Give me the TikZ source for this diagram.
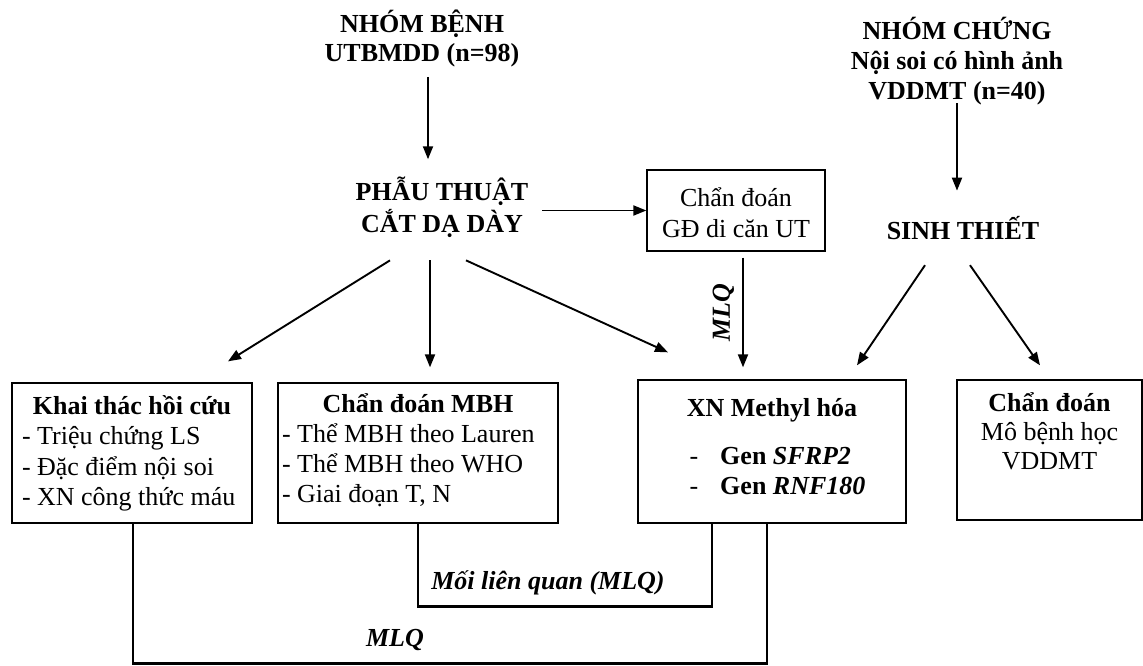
\documentclass[tikz,border=0pt]{standalone}
\usepackage{fontspec}
\setmainfont{Liberation Serif}
\usetikzlibrary{arrows.meta,calc}
\begin{document}
\begin{tikzpicture}[x=1pt,y=-1pt,
  every node/.style={inner sep=0pt, font=\fontsize{26}{30.5}\selectfont},
  ttl/.style={anchor=base, font=\fontsize{26}{30}\selectfont\bfseries},
  box/.style={draw, line width=1.3pt},
  arr/.style={line width=1.9pt, -{Triangle[length=13pt,width=10pt]}},
  conn/.style={line width=2.4pt},
  lbl/.style={font=\fontsize{26}{30}\selectfont\bfseries\itshape},
]
\useasboundingbox (0,0) rectangle (1143,666);

% titles
\node[ttl, font=\fontsize{26}{29}\selectfont\bfseries] (nb) at (422,33)
  {\begin{tabular}[t]{@{}c@{}}NHÓM BỆNH\\UTBMDD (n=98)\end{tabular}};
\node[ttl] (pt) at (442,200)
  {\begin{tabular}[t]{@{}c@{}}PHẪU THUẬT\\CẮT DẠ DÀY\end{tabular}};
\node[ttl] (nc) at (957,40)
  {\begin{tabular}[t]{@{}c@{}}NHÓM CHỨNG\\Nội soi có hình ảnh\\VDDMT (n=40)\end{tabular}};
\node[ttl] (st) at (963,239)
  {\begin{tabular}[t]{@{}c@{}}SINH THIẾT\end{tabular}};

% boxes
\node[box, minimum width=178pt, minimum height=81pt, text height=36pt, text depth=45pt,
  font=\fontsize{26}{31}\selectfont] (gd) at (736,210.5)
  {\begin{tabular}[t]{@{}c@{}}Chẩn đoán\\GĐ di căn UT\end{tabular}};
\node[box, minimum width=240pt, minimum height=140pt, text height=31pt, text depth=109pt] (lb) at (132,453)
  {\begin{tabular}[t]{@{}p{220pt}@{}}\multicolumn{1}{@{}c@{}}{\textbf{Khai thác hồi cứu}}\\- Triệu chứng LS\\- Đặc điểm nội soi\\- XN công thức máu\end{tabular}};
\node[box, minimum width=280pt, minimum height=140pt, text height=29pt, text depth=111pt,
  font=\fontsize{26}{30}\selectfont] (mb) at (418,453)
  {\begin{tabular}[t]{@{}p{272pt}@{}}\multicolumn{1}{@{}c@{}}{\textbf{Chẩn đoán MBH}}\\- Thể MBH theo Lauren\\- Thể MBH theo WHO\\- Giai đoạn T, N\end{tabular}};
\node[box, minimum width=268pt, minimum height=143pt, text height=36pt, text depth=107pt,
  font=\fontsize{26}{29.5}\selectfont] (xm) at (772,451.5)
  {\begin{tabular}[t]{@{\hspace{11pt}}l@{\hspace{22pt}}l@{}}\multicolumn{2}{@{}c@{}}{\textbf{XN Methyl hóa}}\\[19pt]-&\textbf{Gen \textit{SFRP2}}\\-&\textbf{Gen \textit{RNF180}}\end{tabular}};
\node[box, minimum width=185pt, minimum height=140pt, text height=31pt, text depth=109pt,
  font=\fontsize{26}{29}\selectfont] (rb) at (1049.5,450)
  {\begin{tabular}[t]{@{}c@{}}\textbf{Chẩn đoán}\\Mô bệnh học\\VDDMT\end{tabular}};

% arrows
\draw[arr] ([xshift=6pt,yshift=-6pt]nb.south) -- ([xshift=-14pt,yshift=17pt]pt.north);
\draw[arr] ([xshift=-104pt]gd.west) -- (gd.west);
\draw[arr] ([xshift=7pt,yshift=-6pt]gd.south) -- ([xshift=-29pt,yshift=12pt]xm.north)
  node[midway, rotate=90, anchor=south, inner sep=8pt, lbl] (mlq1) {MLQ};
\draw[arr] ([xshift=-52pt,yshift=-19pt]pt.south) -- ([xshift=96pt,yshift=21pt]lb.north);
\draw[arr] ([xshift=-12pt,yshift=-19pt]pt.south) -- ([xshift=12pt,yshift=15pt]mb.north);
\draw[arr] ([xshift=24pt,yshift=-19pt]pt.south) -- ([xshift=-104pt,yshift=27pt]xm.north);
\draw[arr] ([yshift=6pt]nc.south) -- ([xshift=-6pt,yshift=25pt]st.north);
\draw[arr] ([xshift=-38pt,yshift=-17pt]st.south) -- ([xshift=85pt,yshift=14pt]xm.north);
\draw[arr] ([xshift=7pt,yshift=-17pt]st.south) -- ([xshift=-9.5pt,yshift=14pt]rb.north);

% bottom relation connectors
\draw[conn] ([xshift=-60pt]xm.south) -- ++(0,83) -| (mb.south);
\node[lbl] (l1) at (548,583) {Mối liên quan (MLQ)};
\draw[conn] ([xshift=-5pt]xm.south) -- ++(0,140) -| ([xshift=1pt]lb.south);
\node[lbl] (l2) at (395,640) {MLQ};
\end{tikzpicture}
\end{document}
